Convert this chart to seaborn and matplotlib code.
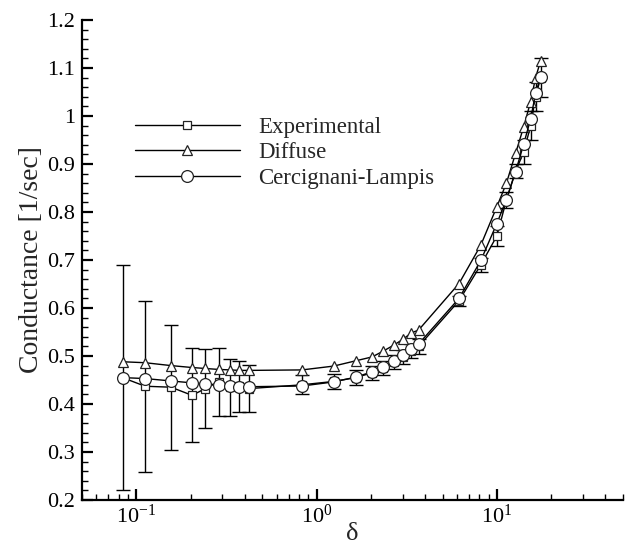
import numpy as np
import pandas as pd
import matplotlib
matplotlib.use('Agg')
import matplotlib.pyplot as plt
import matplotlib.ticker as mticker
import seaborn as sns

# Values
delta = [0.0839, 0.112, 0.156, 0.204, 0.241, 0.286, 0.333, 0.373, 0.421,
         0.83, 1.245, 1.65, 2.03, 2.34, 2.69, 3.02, 3.35, 3.68,
         6.17, 8.15, 10.0, 11.3, 12.7, 14.1, 15.4, 16.4, 17.5]

experimental = [0.455, 0.437, 0.435, 0.418, 0.432, 0.446, 0.435, 0.437, 0.432,
                0.44, 0.447, 0.455, 0.465, 0.475, 0.487, 0.498, 0.51, 0.52,
                0.615, 0.69, 0.75, 0.825, 0.885, 0.925, 0.98, 1.04, 1.08]
exp_err = [0.235, 0.178, 0.13, 0.098, 0.083, 0.07, 0.059, 0.053, 0.049,
           0.02, 0.016, 0.015, 0.015, 0.015, 0.015, 0.015, 0.015, 0.015,
           0.01, 0.015, 0.02, 0.017, 0.015, 0.025, 0.03, 0.03, 0.04]

diffuse = [0.488, 0.486, 0.48, 0.476, 0.474, 0.472, 0.471, 0.47, 0.47,
           0.471, 0.479, 0.49, 0.498, 0.51, 0.523, 0.535, 0.548, 0.554,
           0.651, 0.731, 0.811, 0.86, 0.922, 0.978, 1.03, 1.08, 1.115]

cercignani = [0.455, 0.453, 0.448, 0.444, 0.442, 0.44, 0.4375, 0.436, 0.436,
              0.4375, 0.446, 0.456, 0.467, 0.477, 0.49, 0.502, 0.515, 0.525,
              0.62, 0.699, 0.776, 0.826, 0.884, 0.942, 0.994, 1.047, 1.082]

df = pd.DataFrame({'delta': delta, 'Experimental': experimental,
                   'Diffuse': diffuse, 'Cercignani-Lampis': cercignani})

sns.set_theme(style='ticks')
plt.rcParams['font.family'] = ['Liberation Serif', 'DejaVu Serif']
plt.rcParams['mathtext.fontset'] = 'stix'

fig, ax = plt.subplots(figsize=(6.33, 5.52), dpi=100)
fig.subplots_adjust(left=0.1295, right=0.984, bottom=0.0942, top=0.9638)

# error bars of the experiment (drawn below the markers)
ax.errorbar(df['delta'], df['Experimental'], yerr=exp_err, fmt='none',
            ecolor='black', elinewidth=1.0, capsize=5, capthick=1.0, zorder=1)

styles = [('Experimental', 's', 6), ('Diffuse', '^', 7.5), ('Cercignani-Lampis', 'o', 8.5)]
for i, (name, mk, ms) in enumerate(styles):
    sns.lineplot(data=df, x='delta', y=name, ax=ax, color='black', linewidth=1.0,
                 marker=mk, markersize=ms, markerfacecolor='white',
                 markeredgecolor='#222222', markeredgewidth=0.9,
                 label=name, zorder=2 + i)

ax.set_xscale('log')
ax.set_xlim(0.05, 50)
ax.set_ylim(0.2, 1.2)
ax.yaxis.set_major_locator(mticker.MultipleLocator(0.1))
ax.yaxis.set_minor_locator(mticker.MultipleLocator(0.02))
ax.yaxis.set_major_formatter(mticker.FuncFormatter(lambda v, p: '%g' % round(v, 2)))
ax.xaxis.set_major_locator(mticker.LogLocator(base=10))
ax.xaxis.set_minor_locator(mticker.LogLocator(base=10, subs=np.arange(2, 10)))
ax.xaxis.set_minor_formatter(mticker.NullFormatter())

for s in ['top', 'right']:
    ax.spines[s].set_visible(False)
for s in ['left', 'bottom']:
    ax.spines[s].set_linewidth(1.6)
    ax.spines[s].set_color('black')

ax.tick_params(which='major', direction='in', length=8, width=1.6,
               labelsize=16, pad=5, colors='black')
ax.tick_params(axis='x', which='major', pad=3)
ax.tick_params(which='minor', direction='in', length=4, width=1.0, colors='black')
ax.tick_params(top=False, right=False, which='both')

ax.set_xlabel('δ', fontsize=19, labelpad=-3)
ax.set_ylabel('Conductance [1/sec]', fontsize=20, labelpad=2)

ax.legend(loc='center left', bbox_to_anchor=(0.076, 0.723), frameon=False,
          fontsize=16.5, handlelength=4.6, handletextpad=0.8, labelspacing=0.2,
          borderpad=0, numpoints=1)

fig.savefig('out.png', dpi=100)
